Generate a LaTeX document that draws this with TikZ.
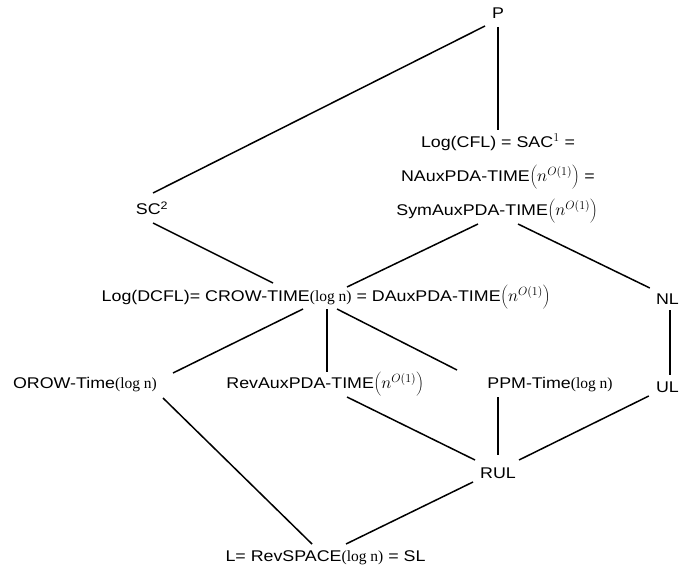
\documentclass[tikz,border=0pt]{standalone}
\usepackage{fontspec}
\setmainfont{Liberation Serif}
\setsansfont{Liberation Sans}[FakeStretch=1.15]
\begin{document}
\begin{tikzpicture}[x=1pt,y=-1pt,
  lbl/.style={font=\sffamily\fontsize{15.5}{18.6}\selectfont, inner sep=0pt},
  edge/.style={line width=1.5pt}]
\useasboundingbox (0,0) rectangle (679,569);
\newcommand{\lgn}{{\rmfamily(log n)}}
\newcommand{\npoly}{{\fontsize{18}{21}\selectfont$\left(\vrule height 15pt depth 9pt width 0pt n^{O(1)}\right)$}}
% nodes
\node[lbl] (P) at (498,13) {P};
\node[lbl] (cflA) at (498,142) {Log(CFL) = SAC{\fontsize{18}{21}\selectfont$^{1}$} =};
\node[lbl] (cflB) at (498,178) {NAuxPDA-TIME\npoly\ =};
\node[lbl] (cflC) at (497,212) {SymAuxPDA-TIME\npoly};
\node[lbl] (SC) at (152,208) {SC\textsuperscript{2}};
\node[lbl] (DCFL) at (326,298) {Log(DCFL)= CROW-TIME\lgn\ = DAuxPDA-TIME\npoly};
\node[lbl,anchor=east] (NL) at (679,299) {NL};
\node[lbl,anchor=east] (UL) at (679,387) {UL};
\node[lbl] (OROW) at (85,385) {OROW-Time\lgn};
\node[lbl] (Rev) at (325,385) {RevAuxPDA-TIME\npoly};
\node[lbl] (PPM) at (550,385) {PPM-Time\lgn};
\node[lbl] (RUL) at (498,473) {RUL};
\node[lbl] (L) at (325.5,558) {L= RevSPACE\lgn\ = SL};
% connectors
\draw[edge] ([shift={(-13,13)}]P.center) -- ([shift={(1,-15)}]SC.center);
\draw[edge] ([shift={(0,14)}]P.center) -- ([shift={(0,-12)}]cflA.center);
\draw[edge] ([shift={(1,15)}]SC.center) -- ([shift={(-53,-15)}]DCFL.center);
\draw[edge] ([shift={(-19,12)}]cflC.center) -- ([shift={(21,-11)}]DCFL.center);
\draw[edge] ([shift={(21,12)}]cflC.center) -- ([shift={(-6,-11)}]NL.west);
\draw[edge] ([shift={(14,11)}]NL.west) -- ([shift={(14,-12)}]UL.west);
\draw[edge] ([shift={(-23,11)}]DCFL.center) -- ([shift={(88,-12)}]OROW.center);
\draw[edge] ([shift={(1,11)}]DCFL.center) -- ([shift={(2,-13)}]Rev.center);
\draw[edge] ([shift={(11,11)}]DCFL.center) -- ([shift={(-93,-15)}]PPM.center);
\draw[edge] ([shift={(78,13)}]OROW.center) -- ([shift={(-13.5,-14)}]L.center);
\draw[edge] ([shift={(22,12)}]Rev.center) -- ([shift={(-23,-13)}]RUL.center);
\draw[edge] ([shift={(-52,12)}]PPM.center) -- ([shift={(0,-18)}]RUL.center);
\draw[edge] ([shift={(-7,9)}]UL.west) -- ([shift={(21,-13)}]RUL.center);
\draw[edge] ([shift={(-25,9)}]RUL.center) -- ([shift={(20.5,-14)}]L.center);
\end{tikzpicture}
\end{document}
